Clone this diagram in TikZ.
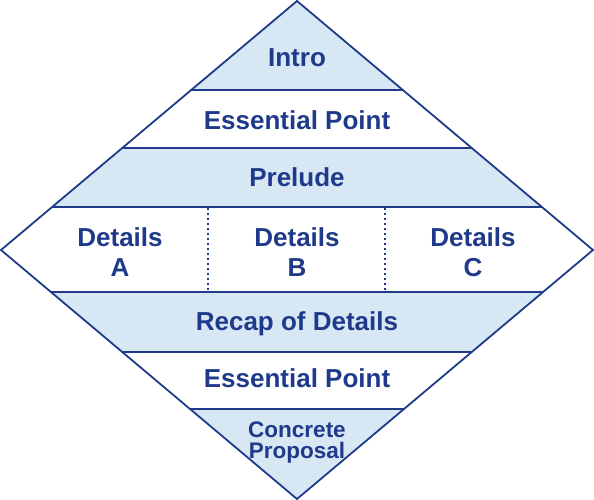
\documentclass[tikz,border=0pt]{standalone}
\usepackage{fontspec}
\setmainfont{Liberation Sans}
\definecolor{navy}{HTML}{1F3A8A}
\definecolor{bandfill}{HTML}{D7E7F4}
\tikzset{
  lbl/.style={text=navy, font=\fontsize{26}{30}\selectfont\bfseries, align=center, inner sep=0pt},
  sep/.style={draw=navy, line width=1.8pt},
  dotsep/.style={draw=navy, line width=1.6pt, dash pattern=on 2pt off 3pt},
}
\begin{document}
\begin{tikzpicture}[x=1pt,y=-1pt]
\useasboundingbox (0,0) rectangle (594,500);
\coordinate (T) at (297,1);
\coordinate (R) at (593,250);
\coordinate (B) at (297,499);
\coordinate (L) at (1,250);
\begin{scope}
  \clip (T)--(R)--(B)--(L)--cycle;
  \fill[bandfill] (0,0) rectangle (594,90);
  \fill[bandfill] (0,148) rectangle (594,207);
  \fill[bandfill] (0,292) rectangle (594,352);
  \fill[bandfill] (0,409) rectangle (594,500);
  \draw[sep] (0,90) -- (594,90);
  \draw[sep] (0,148) -- (594,148);
  \draw[sep] (0,207) -- (594,207);
  \draw[sep] (0,292) -- (594,292);
  \draw[sep] (0,352) -- (594,352);
  \draw[sep] (0,409) -- (594,409);
\end{scope}
\draw[navy, line width=1.8pt, line join=miter] (T)--(R)--(B)--(L)--cycle;
\draw[dotsep] (208,208) -- (208,291);
\draw[dotsep] (385,208) -- (385,291);
\node[lbl] (intro) at (297,58) {Intro};
\node[lbl] (ess1) at (297,120) {Essential Point};
\node[lbl] (prelude) at (297,177) {Prelude};
\node[lbl] (da) at (120,252) {Details\\A};
\node[lbl] (db) at (297,252) {Details\\B};
\node[lbl] (dc) at (473,252) {Details\\C};
\node[lbl] (recap) at (297,324) {Recap of Details};
\node[lbl] (ess2) at (297,378) {Essential Point};
\node[lbl, font=\fontsize{22.5}{21}\selectfont\bfseries] (prop) at (297,442) {Concrete\\Proposal};
\end{tikzpicture}
\end{document}
